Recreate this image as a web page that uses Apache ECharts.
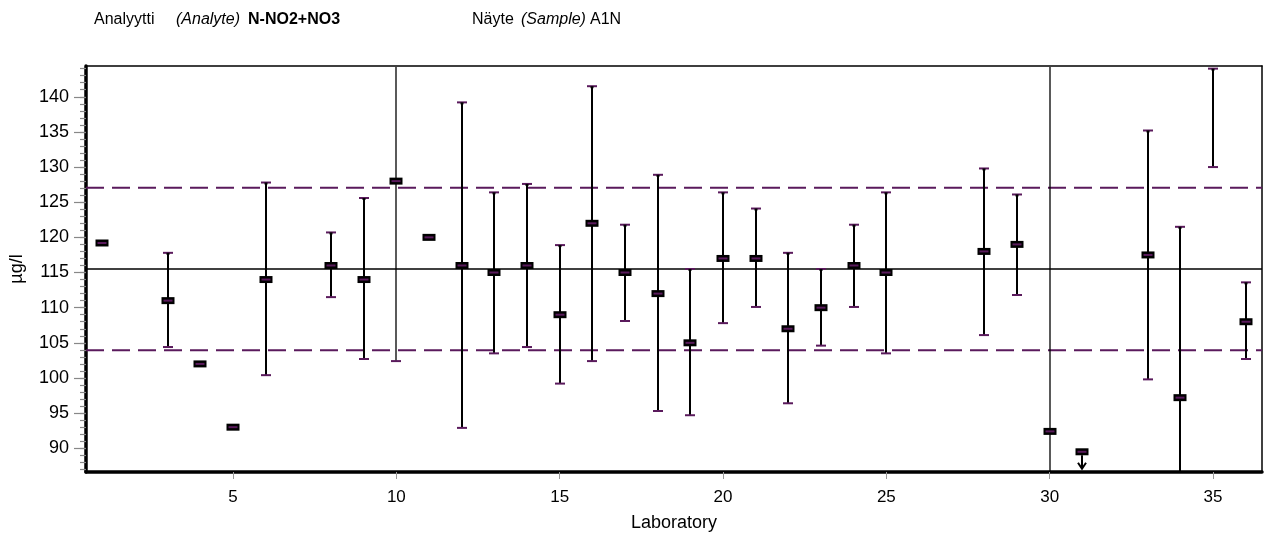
<!DOCTYPE html>
<html>
<head>
<meta charset="utf-8">
<script src="https://cdn.jsdelivr.net/npm/echarts@6/dist/echarts.min.js"></script>
<style>
  html, body { margin: 0; padding: 0; background: #fff; }
  #chart { width: 1271px; height: 541px; }
</style>
</head>
<body>
<div id="chart"></div>
<script>
// Laboratory results for N-NO2+NO3, sample A1N (µg/l)
const labs     = [1, 3, 4, 5, 6, 8, 9, 10, 11, 12, 13, 14, 15, 16, 17, 18, 19, 20, 21, 22, 23, 24, 25, 28, 29, 30, 31, 33, 34, 35, 36];
const results  = [119.2, 111, 102, 93, 114, 116, 114, 128, 120, 116, 115, 116, 109, 122, 115, 112, 105, 117, 117, 107, 110, 116, 115, 118, 119, 92.4, 89.5, 117.5, 97.2, null, 108];
// lower / upper end of each reported uncertainty range (null = none reported)
const lowerEnd = [null, 104.4, null, null, 100.4, 111.5, 102.7, 102.4, null, 92.9, 103.5, 104.4, 99.2, 102.4, 108.1, 95.3, 94.7, 107.8, 110.1, 96.4, 104.6, 110.1, 103.5, 106.1, 111.8, 30, null, 99.8, 73, 130, 102.7];
const upperEnd = [null, 117.8, null, null, 127.8, 120.7, 125.6, 153.6, null, 139.2, 126.4, 127.6, 118.9, 141.5, 121.8, 128.9, 115.5, 126.4, 124.1, 117.8, 115.5, 121.8, 126.4, 129.8, 126.1, 155, null, 135.2, 121.5, 144.0, 113.6];
// results reported as "less than"
const lessThanLabs = [31];

const assignedValue = 115.5;
const lowerLimit = 103.95;
const upperLimit = 127.05;

const yMin = 86.625, yMax = 144.375;
const yTickLabels = [90, 95, 100, 105, 110, 115, 120, 125, 130, 135, 140];
const yMinorTicks = [];
for (let v = 87; v <= 144; v++) yMinorTicks.push(v);
const xTickLabels = [5, 10, 15, 20, 25, 30, 35];

const PURPLE = '#5a1a5c';
const FONT = '"Liberation Sans", Arial, Helvetica, sans-serif';

const errData = [];
const markData = [];
labs.forEach((lab, i) => {
  if (lowerEnd[i] != null && upperEnd[i] != null) errData.push([lab, lowerEnd[i], upperEnd[i]]);
  if (results[i] != null) markData.push([lab, results[i], lessThanLabs.includes(lab) ? 1 : 0]);
});

function renderErr(params, api) {
  const cs = params.coordSys;
  const x = api.value(0);
  const pLo = api.coord([x, api.value(1)]);
  const pHi = api.coord([x, api.value(2)]);
  const top = cs.y, bottom = cs.y + cs.height;
  const hiClipped = pHi[1] < top;
  const y1 = Math.max(pHi[1], top + 1);
  const y2 = Math.min(pLo[1], bottom - 1);
  const px = Math.round(pLo[0]);
  const children = [{
    type: 'line',
    shape: { x1: px, y1: y1, x2: px, y2: y2 },
    style: { stroke: '#000', lineWidth: hiClipped ? 1.3 : 2 }
  }];
  if (!hiClipped) {
    children.push({ type: 'line', shape: { x1: px - 5, y1: pHi[1], x2: px + 5, y2: pHi[1] }, style: { stroke: PURPLE, lineWidth: 2 } });
    children.push({ type: 'line', shape: { x1: px - 1.5, y1: pHi[1] + 1, x2: px + 1.5, y2: pHi[1] + 1 }, style: { stroke: '#000', lineWidth: 2 } });
  }
  if (pLo[1] <= bottom) {
    children.push({ type: 'line', shape: { x1: px - 5, y1: pLo[1], x2: px + 5, y2: pLo[1] }, style: { stroke: PURPLE, lineWidth: 2 } });
  }
  return { type: 'group', children: children };
}

function renderMark(params, api) {
  const p = api.coord([api.value(0), api.value(1)]);
  const px = Math.round(p[0]);
  const children = [
    { type: 'rect', shape: { x: px - 6.5, y: p[1] - 3.5, width: 13, height: 7 }, style: { fill: '#000' } },
    { type: 'rect', shape: { x: px - 4.5, y: p[1] - 1, width: 9, height: 2 }, style: { fill: PURPLE } }
  ];
  if (api.value(2) === 1) {
    const yA = p[1] + 3.5, yB = p[1] + 17;
    children.push({ type: 'line', shape: { x1: px, y1: yA, x2: px, y2: yB }, style: { stroke: '#000', lineWidth: 2 } });
    children.push({ type: 'polyline', shape: { points: [[px - 4, yB - 6], [px, yB], [px + 4, yB - 6]] }, style: { stroke: '#000', lineWidth: 2, fill: null } });
  }
  return { type: 'group', children: children };
}

const chart = echarts.init(document.getElementById('chart'), null, { renderer: 'canvas' });

const headerY = 21;
const headerText = (x, text, style) => ({
  type: 'text', left: x, top: headerY - 9,
  style: Object.assign({ text: text, font: '16px ' + FONT, fill: '#000' }, style || {})
});

chart.setOption({
  animation: false,
  backgroundColor: '#fff',
  grid: { left: 83, right: 9, top: 66, bottom: 69, containLabel: false },
  xAxis: [{
    type: 'value', min: 0.5, max: 36.5, position: 'bottom',
    name: 'Laboratory', nameLocation: 'middle', nameGap: 42,
    nameTextStyle: { fontFamily: FONT, fontSize: 18, color: '#000' },
    axisLine: { show: true, lineStyle: { color: '#000', width: 3.5 } },
    axisTick: { show: true, customValues: xTickLabels, length: 7, lineStyle: { color: '#999', width: 1 } },
    axisLabel: { customValues: xTickLabels, margin: 17, fontFamily: FONT, fontSize: 17, color: '#000' },
    splitLine: { show: false }
  }, {
    type: 'value', min: 0.5, max: 36.5, position: 'top',
    axisLine: { show: true, lineStyle: { color: '#000', width: 1.5 } },
    axisTick: { show: false }, axisLabel: { show: false }, splitLine: { show: false }
  }],
  yAxis: [{
    type: 'value', min: yMin, max: yMax, position: 'left',
    name: 'µg/l', nameLocation: 'middle', nameGap: 60, nameRotate: 90,
    nameTextStyle: { fontFamily: FONT, fontSize: 18, color: '#000' },
    axisLine: { show: true, lineStyle: { color: '#000', width: 3.5 } },
    axisTick: { show: true, customValues: yTickLabels, length: 12, lineStyle: { color: '#888', width: 1.2 } },
    axisLabel: { customValues: yTickLabels, margin: 17, fontFamily: FONT, fontSize: 18, color: '#000' },
    splitLine: { show: false }
  }, {
    type: 'value', min: yMin, max: yMax, position: 'left',
    axisLine: { show: false },
    axisTick: { show: true, customValues: yMinorTicks, length: 6, lineStyle: { color: '#888', width: 1.2 } },
    axisLabel: { show: false }, splitLine: { show: false }
  }, {
    type: 'value', min: yMin, max: yMax, position: 'right',
    axisLine: { show: true, lineStyle: { color: '#000', width: 1.5 } },
    axisTick: { show: false }, axisLabel: { show: false }, splitLine: { show: false }
  }],
  graphic: [
    headerText(94, 'Analyytti'),
    headerText(176, '(Analyte)', { font: 'italic 16px ' + FONT }),
    headerText(248, 'N-NO2+NO3', { font: 'bold 16px ' + FONT }),
    headerText(472, 'Näyte'),
    headerText(521, '(Sample)', { font: 'italic 16px ' + FONT }),
    headerText(590, 'A1N')
  ],
  series: [{
    type: 'line', xAxisIndex: 0, yAxisIndex: 0, symbol: 'none', silent: true,
    data: [[0.5, assignedValue], [36.5, assignedValue]],
    lineStyle: { color: '#000', width: 1.5 }, z: 1
  }, {
    type: 'line', xAxisIndex: 0, yAxisIndex: 0, symbol: 'none', silent: true,
    data: [[0.5, upperLimit], [36.5, upperLimit]],
    lineStyle: { color: PURPLE, width: 2, type: [18, 8] }, z: 1
  }, {
    type: 'line', xAxisIndex: 0, yAxisIndex: 0, symbol: 'none', silent: true,
    data: [[0.5, lowerLimit], [36.5, lowerLimit]],
    lineStyle: { color: PURPLE, width: 2, type: [18, 8] }, z: 1
  }, {
    type: 'custom', xAxisIndex: 0, yAxisIndex: 0, silent: true,
    renderItem: renderErr, data: errData, z: 2,
    encode: { x: 0, y: [1, 2] }
  }, {
    type: 'custom', xAxisIndex: 0, yAxisIndex: 0, silent: true,
    renderItem: renderMark, data: markData, z: 3,
    encode: { x: 0, y: 1 }
  }]
});
</script>
</body>
</html>
